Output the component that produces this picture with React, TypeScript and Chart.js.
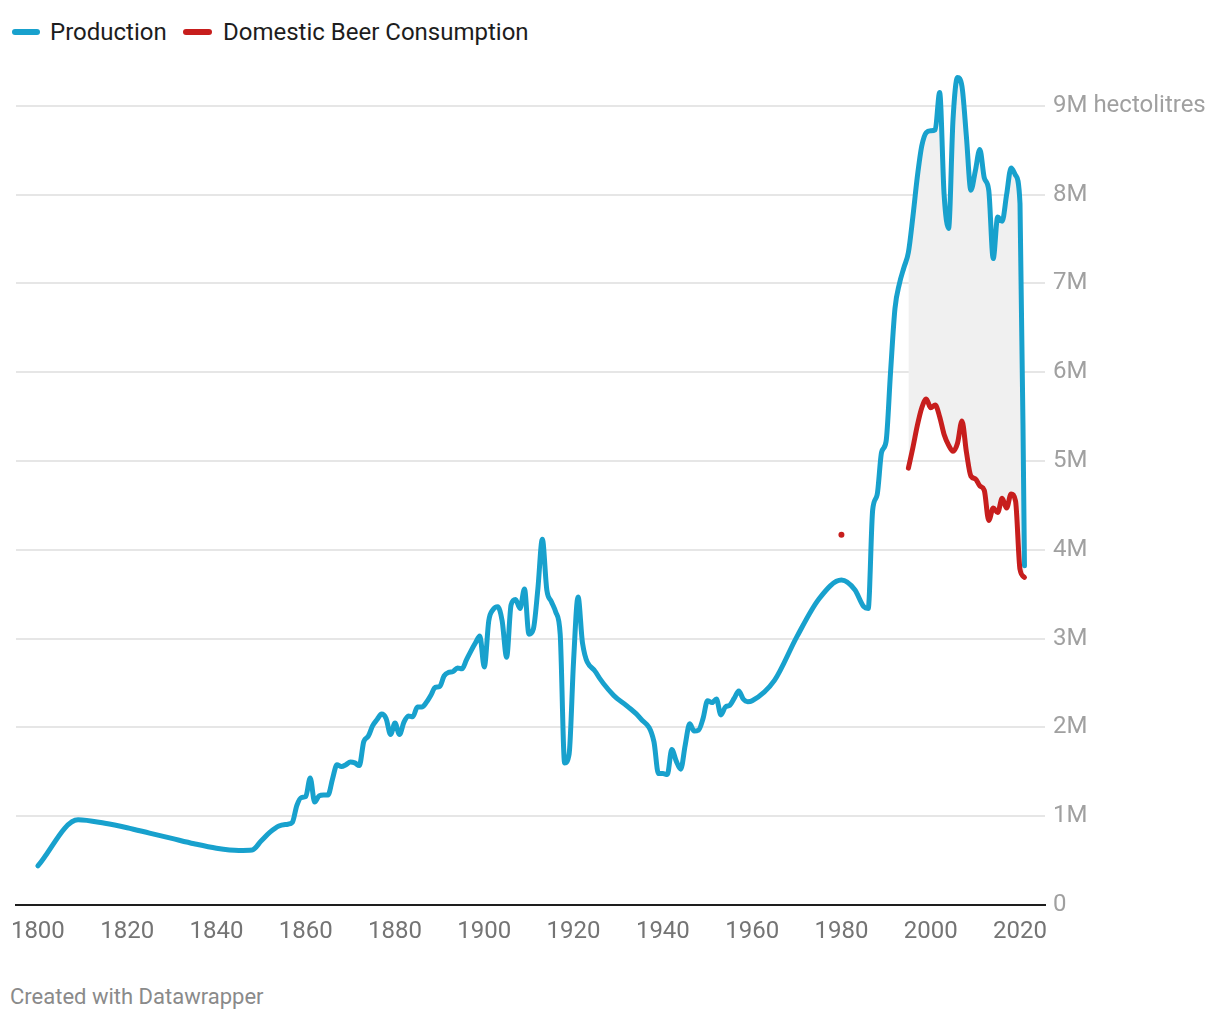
import React, { useEffect, useRef } from "react";
import { Chart, registerables } from "chart.js";

Chart.register(...registerables);

// ---------- data ----------
const productionYears = [
  1800, 1809, 1815, 1820, 1825, 1830, 1835, 1840, 1845, 1848,
  1850, 1852, 1854, 1856, 1857, 1858, 1859, 1860, 1861, 1862,
  1863, 1864, 1865, 1866, 1867, 1868, 1869, 1870, 1871, 1872,
  1873, 1874, 1875, 1876, 1877, 1878, 1879, 1880, 1881, 1882,
  1883, 1884, 1885, 1886, 1887, 1888, 1889, 1890, 1891, 1892,
  1893, 1894, 1895, 1896, 1897, 1898, 1899, 1900, 1901, 1902,
  1903, 1904, 1905, 1906, 1907, 1908, 1909, 1910, 1911, 1912,
  1913, 1914, 1915, 1916, 1917, 1918, 1919, 1920, 1921, 1922,
  1925, 1929, 1932, 1935, 1938, 1939, 1940, 1941, 1942, 1943,
  1944, 1945, 1946, 1947, 1948, 1949, 1950, 1951, 1952, 1953,
  1954, 1955, 1956, 1957, 1958, 1959, 1960, 1965, 1970, 1975,
  1980, 1983, 1985, 1986, 1987, 1988, 1989, 1990, 1991, 1992,
  1993, 1994, 1995, 1996, 1997, 1998, 1999, 2000, 2001, 2002,
  2003, 2004, 2005, 2006, 2007, 2008, 2009, 2010, 2011, 2012,
  2013, 2014, 2015, 2016, 2017, 2018, 2019, 2020, 2021,
];
const productionValues = [
  0.44, 0.96, 0.92, 0.87, 0.81, 0.75, 0.69, 0.64, 0.615, 0.62,
  0.72, 0.82, 0.89, 0.91, 0.93, 1.12, 1.21, 1.22, 1.43, 1.16,
  1.23, 1.24, 1.24, 1.42, 1.58, 1.56, 1.58, 1.61, 1.6, 1.57,
  1.84, 1.9, 2.02, 2.09, 2.15, 2.1, 1.92, 2.05, 1.92, 2.06,
  2.13, 2.12, 2.23, 2.23, 2.28, 2.36, 2.45, 2.46, 2.58, 2.62,
  2.63, 2.67, 2.66, 2.76, 2.86, 2.95, 3.03, 2.68, 3.2, 3.33,
  3.36, 3.2, 2.79, 3.38, 3.44, 3.34, 3.56, 3.05, 3.11, 3.56,
  4.12, 3.55, 3.42, 3.3, 3.05, 1.6, 1.7, 2.75, 3.47, 2.95,
  2.62, 2.36, 2.24, 2.1, 1.84, 1.48, 1.48, 1.47, 1.75, 1.62,
  1.53, 1.8, 2.04, 1.96, 1.97, 2.1, 2.3, 2.28, 2.32, 2.14,
  2.23, 2.25, 2.33, 2.41, 2.32, 2.29, 2.3, 2.53, 3.02, 3.45,
  3.66, 3.55, 3.36, 3.34, 4.45, 4.62, 5.1, 5.22, 6.0, 6.72,
  7.0, 7.18, 7.35, 7.75, 8.2, 8.55, 8.7, 8.72, 8.73, 9.15,
  8.0, 7.62, 8.85, 9.32, 9.22, 8.65, 8.05, 8.27, 8.51, 8.19,
  8.05, 7.28, 7.75, 7.7, 8.0, 8.3, 8.22, 7.9, 3.82,
];

const consumptionYears = [
  1980, 1995, 1996, 1997, 1998, 1999, 2000, 2001, 2002, 2003,
  2004, 2005, 2006, 2007, 2008, 2009, 2010, 2011, 2012, 2013,
  2014, 2015, 2016, 2017, 2018, 2019, 2020, 2021,
];
const consumptionValues = [
  4.17, 4.92, 5.15, 5.4, 5.6, 5.7, 5.6, 5.63, 5.5, 5.3,
  5.18, 5.11, 5.2, 5.45, 5.1, 4.83, 4.8, 4.72, 4.67, 4.33,
  4.47, 4.42, 4.58, 4.47, 4.63, 4.55, 3.78, 3.69,
];

const xTickYears = [1800, 1820, 1840, 1860, 1880, 1900, 1920, 1940, 1960, 1980, 2000, 2020];
const yTickValues = [0, 1, 2, 3, 4, 5, 6, 7, 8, 9];
const yTickLabels = ["0", "1M", "2M", "3M", "4M", "5M", "6M", "7M", "8M", "9M hectolitres"];

const seriesNames = ["Production", "Domestic Beer Consumption"];
const seriesColors = ["#18a1cd", "#c71e1d"];
const gapFill = "#f0f0f0";

// ---------- helpers ----------
type Pt = { x: number; y: number | null };

function toPoints(years: number[], values: number[], breakGaps: boolean): Pt[] {
  const pts: Pt[] = [];
  years.forEach((yr, i) => {
    if (breakGaps && i > 0 && yr - years[i - 1] > 1) {
      pts.push({ x: years[i - 1] + 1, y: null });
    }
    pts.push({ x: yr, y: values[i] });
  });
  return pts;
}

export default function App() {
  const canvasRef = useRef<HTMLCanvasElement | null>(null);

  useEffect(() => {
    if (!canvasRef.current) return;
    Chart.defaults.font.family = "Roboto";

    const prodPts = toPoints(productionYears, productionValues, false);
    const consPts = toPoints(consumptionYears, consumptionValues, true);

    // continuous consumption run (years with a neighbour)
    const runYears = consumptionYears.filter(
      (y, i) => consumptionYears[i - 1] === y - 1 || consumptionYears[i + 1] === y + 1
    );
    const fillBottom = runYears.map((y) => ({
      x: y,
      y: consumptionValues[consumptionYears.indexOf(y)],
    }));
    const fillTop = runYears
      .filter((y) => productionYears.includes(y))
      .map((y) => ({ x: y, y: productionValues[productionYears.indexOf(y)] }));

    const chart = new Chart(canvasRef.current, {
      type: "line",
      data: {
        datasets: [
          {
            label: seriesNames[0],
            data: prodPts as any,
            borderColor: seriesColors[0],
            backgroundColor: seriesColors[0],
            borderWidth: 5,
            pointRadius: 0,
            cubicInterpolationMode: "monotone",
            borderCapStyle: "round",
            borderJoinStyle: "round",
            fill: false,
            order: 1,
          },
          {
            label: seriesNames[1],
            data: consPts as any,
            borderColor: seriesColors[1],
            backgroundColor: seriesColors[1],
            borderWidth: 5,
            pointRadius: (ctx: any) => {
              const d = ctx.dataset.data as Pt[];
              const i = ctx.dataIndex;
              const prev = d[i - 1];
              const next = d[i + 1];
              const isolated = (!prev || prev.y == null) && (!next || next.y == null);
              return isolated ? 3 : 0;
            },
            pointBorderWidth: 0,
            spanGaps: false,
            cubicInterpolationMode: "monotone",
            borderCapStyle: "round",
            borderJoinStyle: "round",
            fill: false,
            order: 0,
          },
          {
            label: "gapTop",
            data: fillTop as any,
            borderColor: "rgba(0,0,0,0)",
            borderWidth: 0,
            pointRadius: 0,
            cubicInterpolationMode: "monotone",
            backgroundColor: gapFill,
            fill: { target: 3 },
            order: 5,
          },
          {
            label: "gapBottom",
            data: fillBottom as any,
            borderColor: "rgba(0,0,0,0)",
            borderWidth: 0,
            pointRadius: 0,
            cubicInterpolationMode: "monotone",
            fill: false,
            order: 6,
          },
        ],
      },
      options: {
        animation: false,
        responsive: false,
        maintainAspectRatio: false,
        events: [],
        layout: { padding: { top: 11.5, left: 16, right: 0, bottom: 0 } },
        plugins: {
          legend: { display: false },
          tooltip: { enabled: false },
          filler: { propagate: false },
        },
        scales: {
          x: {
            type: "linear",
            min: 1795.1,
            max: 2025.6,
            grid: { display: false, drawTicks: false },
            border: { display: true, color: "#1e1e1e", width: 2 },
            ticks: {
              autoSkip: false,
              maxRotation: 0,
              padding: 13,
              color: "#747474",
              font: { family: "Roboto", size: 24 },
              callback: (v: any) => String(v),
            },
            afterBuildTicks: (s: any) => {
              s.ticks = xTickYears.map((v) => ({ value: v }));
            },
            afterFit: (s: any) => {
              s.height = 60;
              s.paddingLeft = 0;
              s.paddingRight = 0;
            },
          },
          y: {
            type: "linear",
            position: "right",
            min: 0,
            max: 9.5,
            grid: {
              drawTicks: false,
              lineWidth: 2,
              color: (ctx: any) => (ctx.tick && ctx.tick.value === 0 ? "rgba(0,0,0,0)" : "#e6e6e6"),
            },
            border: { display: false },
            ticks: {
              padding: 8,
              color: "#a0a0a0",
              font: { family: "Roboto", size: 24 },
              callback: (v: any) => {
                const i = yTickValues.indexOf(Number(v));
                return i >= 0 ? yTickLabels[i] : "";
              },
            },
            afterBuildTicks: (s: any) => {
              s.ticks = yTickValues.map((v) => ({ value: v }));
            },
            afterFit: (s: any) => {
              s.width = 175;
              s.paddingTop = 0;
              s.paddingBottom = 0;
            },
          },
        },
      },
    } as any);

    return () => chart.destroy();
  }, []);

  const textStyle: React.CSSProperties = {
    position: "absolute",
    fontFamily: "Roboto",
    fontSize: 24,
    lineHeight: "28px",
    color: "#1d1d1d",
    whiteSpace: "nowrap",
  };

  return (
    <div
      style={{
        position: "absolute",
        left: 0,
        top: 0,
        width: 1220,
        height: 1020,
        background: "#ffffff",
        overflow: "hidden",
      }}
    >
      <div style={{ position: "absolute", left: 12, top: 29, width: 28, height: 6, borderRadius: 3, background: seriesColors[0] }} />
      <div style={{ ...textStyle, left: 50, top: 18 }}>{seriesNames[0]}</div>
      <div style={{ position: "absolute", left: 183, top: 29, width: 29, height: 6, borderRadius: 3, background: seriesColors[1] }} />
      <div style={{ ...textStyle, left: 223, top: 18 }}>{seriesNames[1]}</div>

      <canvas
        ref={canvasRef}
        width={1220}
        height={915}
        style={{ position: "absolute", left: 0, top: 50, width: 1220, height: 915, display: "block" }}
      />

      <div
        style={{
          position: "absolute",
          left: 10,
          top: 984,
          fontFamily: "Roboto",
          fontSize: 22,
          lineHeight: "26px",
          color: "#8a8a8a",
          whiteSpace: "nowrap",
        }}
      >
        Created with Datawrapper
      </div>
    </div>
  );
}
